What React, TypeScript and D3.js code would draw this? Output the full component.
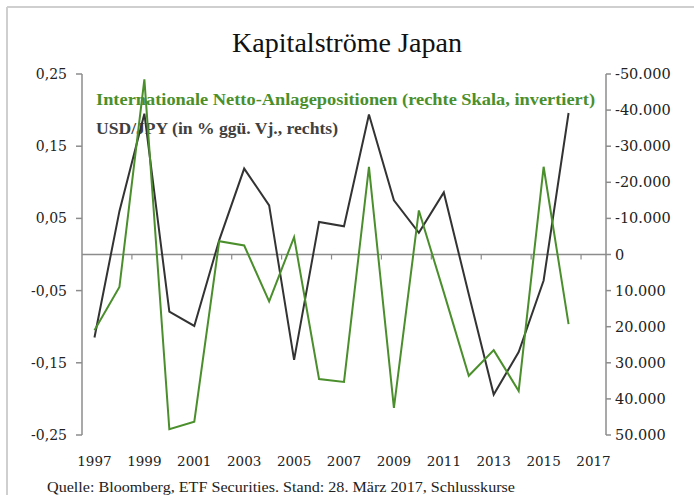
import React from "react";
import * as d3 from "d3";

const years = d3.range(1997, 2018).map(String);
const usdJpy = [-0.115, 0.06, 0.195, -0.079, -0.099, 0.02, 0.119, 0.068, -0.146, 0.045, 0.039, 0.194, 0.075, 0.03, 0.086, -0.055, -0.194, -0.135, -0.036, 0.196];
const nettoPos = [21000, 9000, -48500, 48400, 46300, -3700, -2500, 13000, -4800, 34500, 35300, -24300, 42500, -12200, 10500, 33600, 26500, 37800, -24300, 19300];
const leftTicks = [0.25, 0.15, 0.05, -0.05, -0.15, -0.25];
const rightTicks = [-50000, -40000, -30000, -20000, -10000, 0, 10000, 20000, 30000, 40000, 50000];
const xLabels = ["1997", "1999", "2001", "2003", "2005", "2007", "2009", "2011", "2013", "2015", "2017"];

const W = 694, H = 495;
const L = 82, R = 606, T = 74, B = 435;

export default function App() {
  const x = d3.scaleBand<string>().domain(years).range([L, R]).padding(0);
  const yL = d3.scaleLinear().domain([-0.25, 0.25]).range([B, T]);
  const yR = d3.scaleLinear().domain([-50000, 50000]).range([T, B]);
  const cx = (i: number) => (x(years[i]) as number) + x.bandwidth() / 2;
  const lineL = d3.line<number>().x((_, i) => cx(i)).y((d) => yL(d));
  const lineR = d3.line<number>().x((_, i) => cx(i)).y((d) => yR(d));
  const fmtL = (v: number) => d3.format(".2f")(v).replace(".", ",").replace("−", "-");
  const fmtR = (v: number) => d3.format(",")(v).replace(/,/g, ".").replace("−", "-");
  const zeroY = yL(0);
  const tickXs = years.filter((_, i) => i % 2 === 0 && i > 0).map((y) => x(y) as number);
  const serif = "'Liberation Serif', serif";
  const numFont = "'DejaVu Serif', serif";
  const grey = "#8c8c8c";
  const green = "#4a8f2c";

  return (
    <svg width={W} height={H} style={{ position: "absolute", left: 0, top: 0, background: "#fff" }}>
      <rect x={0} y={0} width={W} height={H} fill="#fff" />
      <line x1={7} y1={7} x2={W} y2={7} stroke="#cfcfcf" strokeWidth={2} />
      <line x1={7} y1={7} x2={7} y2={H} stroke="#cfcfcf" strokeWidth={2} />
      <text x={232} y={52} textLength={230} lengthAdjust="spacingAndGlyphs" fontFamily={serif} fontSize={27} fill="#111">Kapitalströme Japan</text>

      {/* left axis */}
      <line x1={L} y1={yL(0.25)} x2={L} y2={yL(-0.25)} stroke={grey} strokeWidth={1.5} />
      {leftTicks.map((t) => (
        <g key={t}>
          <line x1={L - 6} x2={L} y1={yL(t)} y2={yL(t)} stroke={grey} strokeWidth={1.5} />
          <text x={67} y={yL(t)} dy="0.35em" textAnchor="end" fontFamily={numFont} fontSize={14} fill="#222">{fmtL(t)}</text>
        </g>
      ))}

      {/* right axis */}
      <line x1={R} y1={yR(-50000)} x2={R} y2={yR(50000)} stroke={grey} strokeWidth={1.5} />
      {rightTicks.map((t) => (
        <g key={t}>
          <line x1={R} x2={R + 5} y1={yR(t)} y2={yR(t)} stroke={grey} strokeWidth={1.5} />
          <text x={615} y={yR(t)} dy="0.35em" textAnchor="start" fontFamily={numFont} fontSize={14.5} fill="#222">{fmtR(t)}</text>
        </g>
      ))}

      {/* zero line and x ticks */}
      <line x1={L} x2={R} y1={zeroY} y2={zeroY} stroke={grey} strokeWidth={1.5} />
      {tickXs.map((tx, i) => (
        <line key={i} x1={tx} x2={tx} y1={zeroY} y2={zeroY + 5} stroke={grey} strokeWidth={1.2} />
      ))}
      {xLabels.map((yr) => (
        <text key={yr} x={(x(yr) as number) + x.bandwidth() / 2} y={466} textAnchor="middle" fontFamily={numFont} fontSize={13.5} fill="#222">{yr}</text>
      ))}

      {/* legend */}
      <text x={96} y={105} textLength={499} lengthAdjust="spacingAndGlyphs" fontFamily={serif} fontWeight="bold" fontSize={17} fill={green}>Internationale Netto-Anlagepositionen (rechte Skala, invertiert)</text>
      <text x={96} y={134} textLength={242} lengthAdjust="spacingAndGlyphs" fontFamily={serif} fontWeight="bold" fontSize={17} fill="#404040">USD/JPY (in % ggü. Vj., rechts)</text>

      {/* series */}
      <path d={lineL(usdJpy) as string} fill="none" stroke="#333" strokeWidth={2} strokeLinejoin="miter" />
      <path d={lineR(nettoPos) as string} fill="none" stroke={green} strokeWidth={2} strokeLinejoin="miter" />

      <text x={47} y={492} textLength={468} lengthAdjust="spacingAndGlyphs" fontFamily={serif} fontSize={15.5} fill="#222">Quelle: Bloomberg, ETF Securities. Stand: 28. März 2017, Schlusskurse</text>
    </svg>
  );
}
